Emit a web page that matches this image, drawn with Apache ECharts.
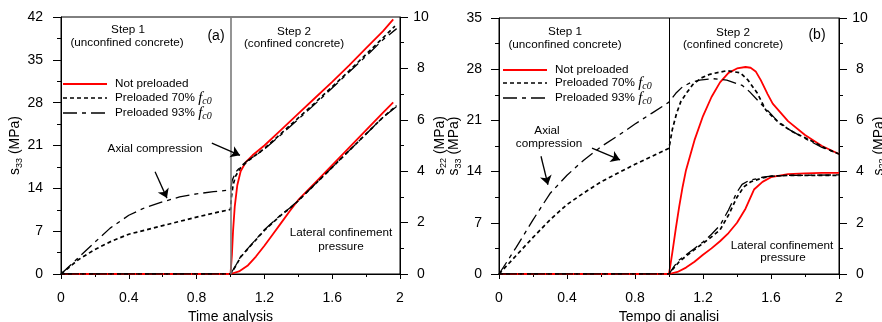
<!DOCTYPE html>
<html>
<head>
<meta charset="utf-8">
<script src="https://cdn.jsdelivr.net/npm/echarts@6/dist/echarts.min.js"></script>
<style>
  html, body { margin: 0; padding: 0; background: #fff; }
  #chart { width: 882px; height: 322px; }
</style>
</head>
<body>
<div id="chart"></div>
<script>
// ---- axis ticks ----
const timeTicks = [0, 0.4, 0.8, 1.2, 1.6, 2];
const axialTicksA = [0, 7, 14, 21, 28, 35, 42];
const axialTicksB = [0, 7, 14, 21, 28, 35];
const lateralTicks = [0, 2, 4, 6, 8, 10];

// ---- panel (a): time analysis, [time, stress MPa] ----
const aAxialNotPre = [[0,0],[1,0],[1.008,3],[1.015,7],[1.025,11],[1.04,14.5],[1.06,16.8],[1.09,18.3],[1.13,19.4],[1.2,21.0],[1.3,23.6],[1.4,26.2],[1.5,28.8],[1.6,31.4],[1.7,34.1],[1.8,36.9],[1.9,39.7],[1.96,41.6]];
const aAxialPre70 = [[0,0],[0.1,2.3],[0.2,4.0],[0.3,5.4],[0.4,6.5],[0.5,7.2],[0.6,7.9],[0.7,8.6],[0.8,9.3],[0.9,9.95],[1.0,10.55],[1.005,12.5],[1.015,14.5],[1.03,16.0],[1.06,17.4],[1.1,18.4],[1.2,20.5],[1.3,23.0],[1.4,25.5],[1.5,28.0],[1.6,30.6],[1.7,33.2],[1.8,35.9],[1.9,38.6],[1.97,40.5]];
const aAxialPre93 = [[0,0],[0.1,2.6],[0.2,5.2],[0.29,7.5],[0.4,9.6],[0.5,10.9],[0.6,11.8],[0.7,12.6],[0.8,13.1],[0.9,13.45],[1.0,13.75],[1.01,15.3],[1.03,16.6],[1.06,17.6],[1.1,18.5],[1.2,20.4],[1.3,22.8],[1.4,25.3],[1.5,27.8],[1.6,30.4],[1.7,33.0],[1.8,35.6],[1.9,38.3],[1.98,40.1]];
const aLateralNotPre = [[0,0],[1,0],[1.05,0.1],[1.1,0.32],[1.15,0.68],[1.2,1.1],[1.25,1.55],[1.3,2.0],[1.35,2.45],[1.4,2.88],[1.5,3.56],[1.6,4.24],[1.7,4.92],[1.8,5.6],[1.9,6.28],[1.96,6.68]];
const aLateralPre70 = [[0,0],[1,0],[1.03,0.3],[1.06,0.66],[1.1,0.96],[1.15,1.33],[1.2,1.7],[1.25,2.0],[1.3,2.3],[1.35,2.55],[1.4,2.85],[1.5,3.5],[1.6,4.15],[1.7,4.8],[1.8,5.45],[1.9,6.1],[1.98,6.55]];
const aLateralPre93 = [[0,0],[1,0],[1.03,0.32],[1.06,0.68],[1.1,0.98],[1.15,1.35],[1.2,1.72],[1.25,2.02],[1.3,2.32],[1.35,2.57],[1.4,2.86],[1.5,3.5],[1.6,4.15],[1.7,4.8],[1.8,5.45],[1.9,6.1],[2.0,6.62]];

// ---- panel (b): tempo di analisi, [time, stress MPa] ----
const bAxialNotPre = [[0,0],[1,0],[1.02,3],[1.04,6.2],[1.06,9.2],[1.08,11.9],[1.1,14.2],[1.15,18.3],[1.2,21.6],[1.25,24.2],[1.3,26.2],[1.35,27.5],[1.4,28.1],[1.45,28.3],[1.48,28.2],[1.51,27.7],[1.54,26.5],[1.58,24.6],[1.61,23.3],[1.7,20.9],[1.8,19.0],[1.9,17.5],[2.0,16.4]];
const bAxialPre70 = [[0,0],[0.1,2.5],[0.2,5.0],[0.3,7.4],[0.4,9.5],[0.5,11.1],[0.6,12.6],[0.7,13.8],[0.8,15.0],[0.9,16.1],[1.0,17.2],[1.02,19.8],[1.045,22.0],[1.07,23.6],[1.105,24.8],[1.14,25.9],[1.19,26.8],[1.24,27.3],[1.34,27.8],[1.42,27.5],[1.465,26.5],[1.52,24.7],[1.57,22.4],[1.65,20.6],[1.73,19.4],[1.83,18.3],[1.92,17.2],[2.0,16.4]];
const bAxialPre93 = [[0,0],[0.1,3.6],[0.2,7.4],[0.3,11.0],[0.4,13.5],[0.5,15.6],[0.6,17.4],[0.7,18.9],[0.8,20.5],[0.9,22.0],[1.0,23.5],[1.04,24.7],[1.08,25.6],[1.13,26.2],[1.18,26.5],[1.26,26.7],[1.34,26.5],[1.43,25.8],[1.475,24.9],[1.535,23.4],[1.595,22.0],[1.63,21.1],[1.71,19.7],[1.81,18.4],[1.9,17.3],[2.0,16.4]];
const bLateralNotPre = [[0,0],[1,0],[1.05,0.08],[1.1,0.25],[1.15,0.48],[1.2,0.75],[1.25,1.0],[1.3,1.28],[1.35,1.6],[1.4,2.0],[1.45,2.55],[1.5,3.3],[1.55,3.6],[1.6,3.78],[1.7,3.9],[1.8,3.93],[1.9,3.95],[2.0,3.95]];
const bLateralPre70 = [[0,0],[1,0],[1.03,0.25],[1.06,0.48],[1.1,0.7],[1.15,0.95],[1.2,1.2],[1.25,1.45],[1.3,1.72],[1.35,2.3],[1.4,3.0],[1.44,3.4],[1.48,3.6],[1.55,3.75],[1.6,3.82],[1.7,3.85],[1.8,3.85],[2.0,3.85]];
const bLateralPre93 = [[0,0],[1,0],[1.03,0.3],[1.06,0.55],[1.1,0.75],[1.15,1.0],[1.2,1.25],[1.25,1.55],[1.3,1.9],[1.35,2.5],[1.4,3.2],[1.43,3.5],[1.47,3.65],[1.55,3.78],[1.6,3.82],[1.7,3.85],[2.0,3.87]];

// ---- pointer arrows, [[t0, v0], [t1, v1]] on the axial scale ----
const aArrows = [[[0.89,21.4],[1.056,19.4]], [[0.555,16.7],[0.625,12.4]]];
const bArrows = [[[0.247,16.1],[0.288,12.2]], [[0.547,17.2],[0.712,15.6]]];

const FONT = 'Liberation Sans, Arial, sans-serif';
const SERIF = 'Liberation Serif, Times New Roman, serif';
const LABEL_SIZE = 11.7;
const styles = {
  np:  { color: '#ff0000', width: 1.8, type: 'solid' },
  p70: { color: '#000000', width: 1.7, type: [4, 3] },
  p93: { color: '#000000', width: 1.3, type: [14, 5, 4, 5] }
};
const names = { np: 'Not preloaded', p70: 'Preloaded 70% fc0', p93: 'Preloaded 93% fc0' };

function lineSeries(key, data, xi, yi, extra) {
  const s = styles[key];
  return Object.assign({
    name: names[key],
    type: 'line',
    xAxisIndex: xi,
    yAxisIndex: yi,
    data: data,
    showSymbol: false,
    symbol: 'none',
    smooth: false,
    silent: true,
    lineStyle: { color: s.color, width: s.width, type: s.type, cap: 'butt' },
    itemStyle: { color: s.color },
    z: key === 'np' ? 2 : 3
  }, extra || {});
}

function arrowMarks(list) {
  return {
    silent: true,
    symbol: ['none', 'arrow'],
    symbolSize: 9,
    label: { show: false },
    lineStyle: { color: '#000', width: 1.3, type: 'solid' },
    data: list.map(a => [{ coord: a[0] }, { coord: a[1] }])
  };
}

function divider(color, width) {
  return {
    silent: true,
    symbol: ['none', 'none'],
    label: { show: false },
    lineStyle: { color: color, width: width, type: 'solid' },
    data: [{ xAxis: 1 }]
  };
}

function xAxisCfg(gi, label) {
  return {
    type: 'value', gridIndex: gi,
    min: timeTicks[0], max: timeTicks[timeTicks.length - 1],
    interval: timeTicks[1] - timeTicks[0],
    name: label, nameLocation: 'middle', nameGap: 31,
    nameTextStyle: { fontFamily: FONT, fontSize: 14, color: '#000' },
    axisLine: { show: true, onZero: false, lineStyle: { color: '#000', width: 1 } },
    axisTick: { show: true, inside: false, length: 5, lineStyle: { color: '#000' } },
    minorTick: { show: true, splitNumber: 2, length: 3, lineStyle: { color: '#000' } },
    splitLine: { show: false },
    axisLabel: { fontFamily: FONT, fontSize: 14, color: '#000', margin: 17 }
  };
}

const axisNameRich = {
  s: { fontFamily: FONT, fontSize: 14, color: '#000', lineHeight: 16 },
  b: { fontFamily: FONT, fontSize: 9, color: '#000', lineHeight: 9, verticalAlign: 'bottom' }
};

function yAxisCfg(gi, ticks, pos, nameRich, gap, margin, align) {
  return {
    type: 'value', gridIndex: gi, position: pos,
    min: ticks[0], max: ticks[ticks.length - 1], interval: ticks[1] - ticks[0],
    name: nameRich, nameLocation: 'middle', nameRotate: 90, nameGap: gap,
    nameTextStyle: { fontFamily: FONT, color: '#000', rich: axisNameRich },
    axisLine: { show: true, onZero: false, lineStyle: { color: '#000', width: 1 } },
    axisTick: { show: true, inside: false, length: 8, lineStyle: { color: '#000' } },
    minorTick: { show: true, splitNumber: 2, length: 4, lineStyle: { color: '#000' } },
    splitLine: { show: false },
    axisLabel: { fontFamily: FONT, fontSize: 14, color: '#000', margin: margin, align: align }
  };
}

// text annotations drawn on the canvas
function txt(x, y, text, size) {
  return {
    type: 'text', x: x, y: y, silent: true, z: 10,
    style: {
      text: text, fill: '#000',
      font: (size || LABEL_SIZE) + 'px ' + FONT,
      textAlign: 'center', align: 'center',
      textVerticalAlign: 'middle', verticalAlign: 'middle'
    }
  };
}

const legendRich = {
  n: { fontFamily: FONT, fontSize: LABEL_SIZE, color: '#000', lineHeight: 16 },
  f: { fontFamily: SERIF, fontStyle: 'italic', fontSize: 15, color: '#000', lineHeight: 16 },
  c: { fontFamily: SERIF, fontStyle: 'italic', fontSize: 10, color: '#000', lineHeight: 10, verticalAlign: 'bottom' }
};

function legendBlock(x0, x1, tx, rows) {
  const keys = ['np', 'p70', 'p93'];
  const texts = ['{n|Not preloaded}', '{n|Preloaded 70% }{f|f}{c|c0}', '{n|Preloaded 93% }{f|f}{c|c0}'];
  const out = [];
  keys.forEach((k, i) => {
    const s = styles[k];
    out.push({
      type: 'line', silent: true, z: 10,
      shape: { x1: x0, y1: rows[i], x2: x1, y2: rows[i] },
      style: { stroke: s.color, lineWidth: s.width, lineDash: Array.isArray(s.type) ? s.type : null }
    });
    out.push({
      type: 'text', x: tx, y: rows[i], silent: true, z: 10,
      style: {
        text: texts[i], rich: legendRich,
        textAlign: 'left', align: 'left',
        textVerticalAlign: 'middle', verticalAlign: 'middle'
      }
    });
  });
  return out;
}

const option = {
  animation: false,
  backgroundColor: '#fff',
  textStyle: { fontFamily: FONT },
  grid: [
    { left: 61, top: 17, width: 339, height: 257, outerBoundsMode: 'none', containLabel: false,
      show: true, borderColor: '#000', borderWidth: 1, backgroundColor: 'transparent' },
    { left: 499, top: 18, width: 340, height: 256, outerBoundsMode: 'none', containLabel: false,
      show: true, borderColor: '#000', borderWidth: 1, backgroundColor: 'transparent' }
  ],
  xAxis: [ xAxisCfg(0, 'Time analysis'), xAxisCfg(1, 'Tempo di analisi') ],
  yAxis: [
    yAxisCfg(0, axialTicksA, 'left', '{s|s}{b|33}{s| (MPa)}', 30, 18, 'right'),
    yAxisCfg(0, lateralTicks, 'right', '{s|s}{b|22}{s| (MPa)}', 27, 21, 'center'),
    yAxisCfg(1, axialTicksB, 'left', '{s|s}{b|33}{s| (MPa)}', 34, 17, 'right'),
    yAxisCfg(1, lateralTicks, 'right', '{s|s}{b|22}{s| (MPa)}', 30, 21, 'center')
  ],
  series: [
    // panel (a)
    lineSeries('np', aAxialNotPre, 0, 0, { markLine: divider('#7a7a7a', 1.6) }),
    lineSeries('np', aLateralNotPre, 0, 1),
    lineSeries('p70', aAxialPre70, 0, 0),
    lineSeries('p70', aLateralPre70, 0, 1),
    lineSeries('p93', aAxialPre93, 0, 0, { markLine: arrowMarks(aArrows) }),
    lineSeries('p93', aLateralPre93, 0, 1),
    // panel (b)
    lineSeries('np', bAxialNotPre, 1, 2, { markLine: divider('#000', 1) }),
    lineSeries('np', bLateralNotPre, 1, 3),
    lineSeries('p70', bAxialPre70, 1, 2),
    lineSeries('p70', bLateralPre70, 1, 3),
    lineSeries('p93', bAxialPre93, 1, 2, { markLine: arrowMarks(bArrows) }),
    lineSeries('p93', bLateralPre93, 1, 3)
  ],
  graphic: [
    // panel (a)
    txt(128, 30, 'Step 1'),
    txt(127, 43, '(unconfined concrete)'),
    txt(216, 36, '(a)', 14),
    txt(294, 32, 'Step 2'),
    txt(294, 44, '(confined concrete)'),
    txt(155, 149, 'Axial compression'),
    txt(341, 233, 'Lateral confinement'),
    txt(341, 247, 'pressure'),
    // panel (b)
    txt(565, 32, 'Step 1'),
    txt(565, 45, '(unconfined concrete)'),
    txt(733, 33, 'Step 2'),
    txt(733, 45, '(confined concrete)'),
    txt(817, 35, '(b)', 14),
    txt(547, 131, 'Axial'),
    txt(549, 144, 'compression'),
    txt(782, 246, 'Lateral confinement'),
    txt(783, 258, 'pressure')
  ].concat(
    legendBlock(63, 107, 115, [84, 98, 113]),
    legendBlock(503, 547, 555, [70, 83, 98])
  )
};

const chart = echarts.init(document.getElementById('chart'), null, { renderer: 'canvas' });
chart.setOption(option);
</script>
</body>
</html>
